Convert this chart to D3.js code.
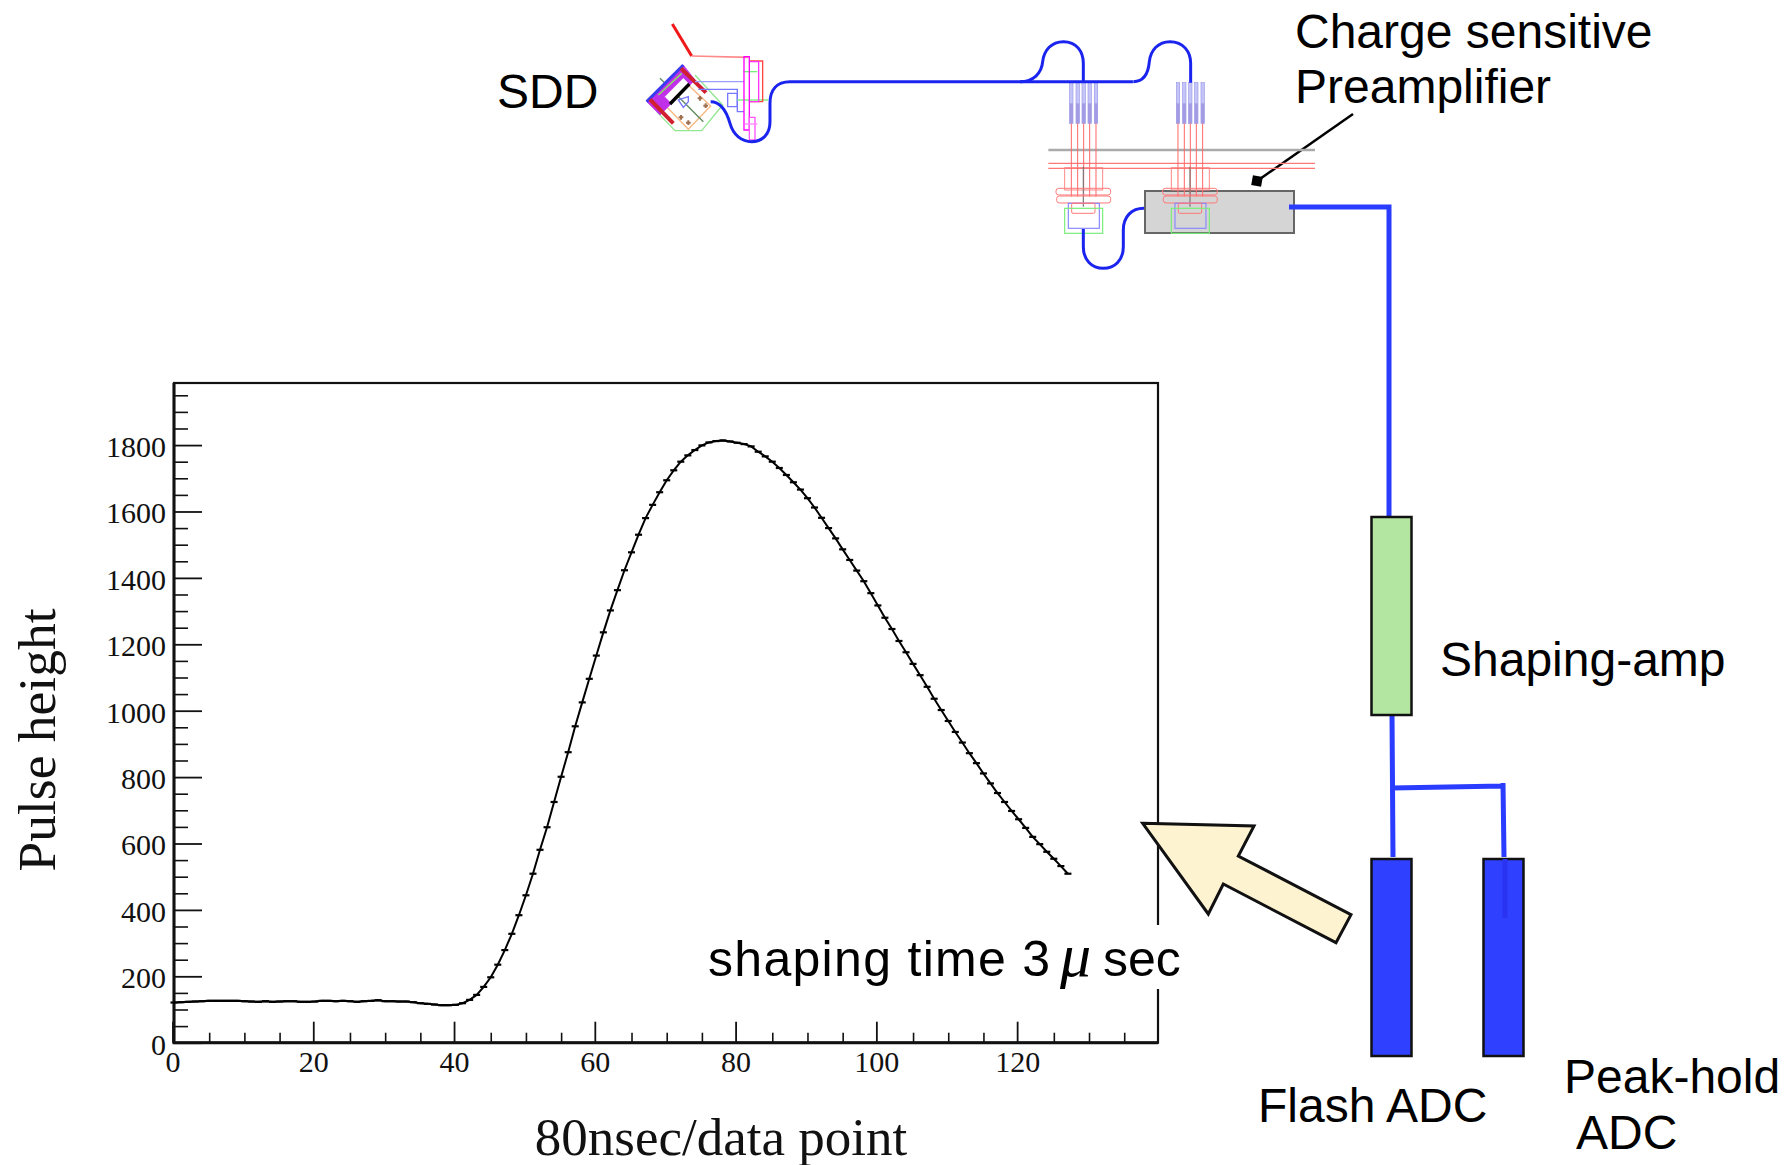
<!DOCTYPE html>
<html>
<head>
<meta charset="utf-8">
<title>Pulse height</title>
<script src="https://cdn.jsdelivr.net/npm/d3@7"></script>
<style>
  html, body { margin: 0; padding: 0; background: #fff; overflow: hidden; }
  svg { display: block; }
</style>
</head>
<body>
<script>
"use strict";

let width = 1790;
let height = 1165;

// pulse height per sample, sample number is the index
let baseline = [121, 122, 123, 124, 125, 126, 126, 126, 126, 126, 125, 124, 123, 125, 123, 124, 125, 125, 123, 123,
  124, 126, 126, 125, 126, 125, 123, 125, 126, 128, 125, 125, 124, 124, 122, 119, 117, 115, 113];
let rising = [113, 114, 119, 129, 144, 168, 197, 235, 279, 328, 384, 444, 509, 581, 649, 725, 801, 875, 953, 1025,
  1096, 1166, 1236, 1302, 1363, 1423, 1477, 1530, 1580, 1620, 1658, 1694, 1724, 1750, 1769, 1785, 1799, 1808, 1812];
let falling = [1814, 1811, 1807, 1803, 1796, 1780, 1766, 1750, 1731, 1710, 1688, 1666, 1640, 1612, 1581, 1550, 1519,
  1486, 1454, 1422, 1390, 1354, 1317, 1280, 1246, 1210, 1176, 1141, 1107, 1072, 1036, 1002, 969, 936, 904, 872, 842,
  811, 781, 752, 725, 698, 673, 647, 620, 598, 575, 554, 532, 509];
let pulse = baseline.concat(rising, falling);

let xMajor = [0, 20, 40, 60, 80, 100, 120];
let xMinor = d3.range(0, 136, 5).filter(d => d % 20 != 0);
let yMajor = [0, 200, 400, 600, 800, 1000, 1200, 1400, 1600, 1800];
let yMinor = d3.range(0, 1951, 50).filter(d => d % 200 != 0);

let serif = "'Liberation Serif', serif";
let sans = "'Liberation Sans', sans-serif";
let cableBlue = "#1a24ee";
let lineBlue = "#2a3cff";

let svg = d3.select("body").append("svg").attr("width", width).attr("height", height);

// ---- chart ----
let xEnd = 139.8;
let x = d3.scaleLinear().domain([0, xEnd]).range([174, 1158]);
let y = d3.scaleLinear().domain([0, 1987]).range([1042.7, 383]);

let chart = svg.append("g");

function styleAxis(g, w) {
  g.select(".domain").remove();
  g.selectAll("line").attr("stroke", "#111").attr("stroke-width", w);
  g.selectAll("text").attr("font-family", serif).attr("font-size", 30).attr("fill", "#111");
}

chart.append("g").attr("transform", "translate(0,1042.7)")
  .call(d3.axisBottom(x).tickValues(xMinor).tickSize(-10).tickFormat(""))
  .call(styleAxis, 1.6);
chart.append("g").attr("transform", "translate(-1.5,1042.7)")
  .call(d3.axisBottom(x).tickValues(xMajor).tickSize(-21).tickPadding(8).tickFormat(d3.format("d")))
  .call(styleAxis, 1.8);
chart.append("g").attr("transform", "translate(174,0)")
  .call(d3.axisLeft(y).tickValues(yMinor).tickSize(-14).tickFormat(""))
  .call(styleAxis, 1.6);
chart.append("g").attr("transform", "translate(174,0)")
  .call(d3.axisLeft(y).tickValues(yMajor).tickSize(-28).tickPadding(8).tickFormat(d3.format("d")))
  .call(styleAxis, 1.8)
  .selectAll("text").attr("dy", "0.38em");

chart.append("rect")
  .attr("x", x(0)).attr("y", y(1987))
  .attr("width", x(xEnd) - x(0)).attr("height", y(0) - y(1987))
  .attr("fill", "none").attr("stroke", "#111").attr("stroke-width", 2.2);
chart.append("path")
  .attr("d", "M" + x(0) + "," + y(1987) + "V" + y(0) + "H" + x(xEnd))
  .attr("fill", "none").attr("stroke", "#111").attr("stroke-width", 3);

let line = d3.line().x((d, i) => x(i)).y(d => y(d));
chart.append("path").datum(pulse)
  .attr("d", line)
  .attr("fill", "none").attr("stroke", "#000").attr("stroke-width", 2);
chart.selectAll(".err").data(pulse).enter().append("line")
  .attr("class", "err")
  .attr("x1", (d, i) => x(i - 0.5)).attr("x2", (d, i) => x(i + 0.5))
  .attr("y1", d => y(d)).attr("y2", d => y(d))
  .attr("stroke", "#000").attr("stroke-width", 2.2);

svg.append("text")
  .attr("transform", "translate(55,740) rotate(-90)")
  .attr("text-anchor", "middle")
  .attr("font-family", serif).attr("font-size", 53.5).attr("fill", "#111")
  .text("Pulse height");
svg.append("text")
  .attr("x", 721).attr("y", 1155)
  .attr("text-anchor", "middle")
  .attr("font-family", serif).attr("font-size", 53).attr("fill", "#111")
  .text("80nsec/data point");

// label sits on a white patch which cuts the right border
svg.append("rect").attr("x", 1140).attr("y", 925).attr("width", 45).attr("height", 64).attr("fill", "#fff");

function label(str, px, py, size, font, style, spacing) {
  svg.append("text")
    .attr("x", px).attr("y", py)
    .attr("font-family", font || sans).attr("font-size", size || 48)
    .attr("font-style", style || "normal")
    .attr("letter-spacing", spacing || 0)
    .attr("fill", "#000")
    .text(str);
}
label("shaping time 3", 708, 976, 50, sans, "normal", 1.3);
label("μ", 1060, 976, 62, serif, "italic");
label("sec", 1103, 976, 50);

label("SDD", 497, 108);
label("Charge sensitive", 1295, 48);
label("Preamplifier", 1295, 103);
label("Shaping-amp", 1440, 676);
label("Flash ADC", 1258, 1122);
label("Peak-hold", 1564, 1093);
label("ADC", 1576, 1149);

// ---- readout chain ----
let chain = svg.append("g");

chain.append("rect").attr("x", 1145).attr("y", 191).attr("width", 149).attr("height", 42)
  .attr("fill", "#d5d5d5").attr("stroke", "#666").attr("stroke-width", 2);

chain.append("path").attr("d", "M1289,207H1389V517")
  .attr("fill", "none").attr("stroke", lineBlue).attr("stroke-width", 5);
chain.append("path").attr("d", "M1392,714L1393,857M1392,788L1503,786M1503,783L1504,857")
  .attr("fill", "none").attr("stroke", lineBlue).attr("stroke-width", 5);

chain.append("rect").attr("x", 1371.5).attr("y", 517).attr("width", 40).attr("height", 198)
  .attr("fill", "#b3e6a0").attr("stroke", "#111").attr("stroke-width", 2.5);
[1371.5, 1483.5].forEach(function (bx) {
  chain.append("rect").attr("x", bx).attr("y", 859).attr("width", 40).attr("height", 197)
    .attr("fill", "#3040ff").attr("stroke", "#111").attr("stroke-width", 2.5);
});
chain.append("line").attr("x1", 1505).attr("x2", 1505).attr("y1", 859).attr("y2", 918)
  .attr("stroke", "#2a33f0").attr("stroke-width", 5);

// leader to the preamp box
chain.append("line").attr("x1", 1353).attr("y1", 114).attr("x2", 1257).attr("y2", 181)
  .attr("stroke", "#000").attr("stroke-width", 2.5);
chain.append("rect").attr("x", -5).attr("y", -5).attr("width", 10).attr("height", 10)
  .attr("transform", "translate(1257,181) rotate(10)").attr("fill", "#000");

// big arrow
chain.append("polygon")
  .attr("points", "1142.7,823.3 1254,826 1238.3,856 1351,914.7 1336,942.7 1223.3,884 1208.3,914")
  .attr("fill", "#fef3d0").attr("stroke", "#111").attr("stroke-width", 3).attr("stroke-linejoin", "miter");

// ---- feedthrough drawing, coordinates in 3x units ----
let feed = svg.append("g").attr("transform", "translate(1020,20) scale(0.3333)").attr("fill", "none");
feed.append("path").attr("d", "M85,390H885").attr("stroke", "#aaa").attr("stroke-width", 7);
feed.append("path").attr("d", "M85,430H885M85,445H885").attr("stroke", "#f77").attr("stroke-width", 3.5);

[0, 320].forEach(function (dx) {
  let c = feed.append("g").attr("transform", "translate(" + dx + ",0)");
  [149, 168, 186, 204, 223].forEach(function (px) {
    c.append("rect").attr("x", px).attr("y", 188).attr("width", 10).attr("height", 122)
      .attr("fill", "#c4c4f8").attr("stroke", "#9a9ae8").attr("stroke-width", 2);
    c.append("rect").attr("x", px).attr("y", 250).attr("width", 10).attr("height", 60)
      .attr("fill", "#a39ce4");
    c.append("path").attr("d", "M" + (px + 5) + ",310V530").attr("stroke", "#f66").attr("stroke-width", 3);
  });
  c.append("rect").attr("x", 134).attr("y", 443).attr("width", 114).attr("height", 67).attr("stroke", "#f88").attr("stroke-width", 3);
  c.append("path").attr("d", "M190,440V560").attr("stroke", "#777").attr("stroke-width", 3.5);
  c.append("rect").attr("x", 108).attr("y", 505).attr("width", 164).attr("height", 20).attr("rx", 8).attr("stroke", "#f77").attr("stroke-width", 3);
  c.append("rect").attr("x", 110).attr("y", 528).attr("width", 162).attr("height", 21).attr("rx", 8).attr("stroke", "#f77").attr("stroke-width", 3);
  c.append("rect").attr("x", 145).attr("y", 550).attr("width", 93).attr("height", 75).attr("stroke", "#88f").attr("stroke-width", 3.5);
  c.append("rect").attr("x", 155).attr("y", 550).attr("width", 70).attr("height", 30).attr("rx", 4).attr("stroke", "#f77").attr("stroke-width", 3);
  c.append("rect").attr("x", 134).attr("y", 565).attr("width", 114).attr("height", 75).attr("stroke", "#7e7").attr("stroke-width", 3.5);
});

feed.append("path")
  .attr("d", "M340,185C372,185 385,160 388,125C392,90 415,65 450,65C490,65 512,95 512,130V188")
  .attr("stroke", cableBlue).attr("stroke-width", 9);
feed.append("path")
  .attr("d", "M0,185C40,185 65,160 68,125C72,90 95,65 130,65C170,65 190,95 190,130V185")
  .attr("stroke", cableBlue).attr("stroke-width", 9);
feed.append("path")
  .attr("d", "M190,627V680C190,720 215,745 250,745C285,745 310,720 310,680V630C310,590 335,565 372,565")
  .attr("stroke", cableBlue).attr("stroke-width", 9);

// ---- SDD drawing, coordinates in 3x units ----
let sdd = svg.append("g").attr("transform", "translate(620,0) scale(0.3333)").attr("fill", "none");
function part(d, col, w, fill) {
  sdd.append("path").attr("d", d).attr("stroke", col).attr("stroke-width", w).attr("fill", fill || "none");
}
part("M225,225L308,315L245,392H165L110,335", "#8fe88f", 4);
part("M205,255L272,318L205,388L140,320Z", "#f7b880", 4);
part("M120,235L250,365", "#5f8a5f", 4);
part("M80,305L190,195L225,240L120,345Z", "#c030e8", 2, "#c030e8");
part("M135,290L190,235L205,250L150,305Z", "#fff", 1, "#fff");
part("M115,285L185,220", "#8ed86a", 5);
part("M80,305L190,195", "#3a3af0", 9);
part("M90,298L160,370", "#d02030", 12);
part("M183,205L258,278", "#d02030", 12);
part("M150,312L208,252", "#000", 10);
part("M175,300L205,290L205,305L190,322Z", "#77f", 4);
[[257, 317], [240, 295], [205, 368], [183, 352]].forEach(function (p) {
  part("M" + (p[0] - 7) + "," + p[1] + "H" + (p[0] + 7) + "M" + p[0] + "," + (p[1] - 7) + "V" + (p[1] + 7), "#a07050", 6);
});
part("M225,245H372", "#99a0ff", 4);
part("M235,268H352V335H372", "#77f", 4);
part("M323,280H352V320H323Z", "#77f", 4);
part("M352,300H445", "#7e7", 4);
part("M370,215H412", "#7e7", 4);
part("M157,72L215,168", "#f01818", 9);
part("M215,168L385,172", "#f88", 5);
part("M372,170H388V390H372Z", "#f0f", 4);
part("M390,183H428V305H390", "#f44", 4);
part("M390,185H416V305H390", "#f3f", 4);
part("M388,352H405V420H388Z", "#f5f", 4);
part("M375,372H412", "#f8f", 4);
part("M272,305C305,305 320,335 330,370C340,405 365,425 395,425C430,425 450,400 450,365V310C450,270 470,245 510,245H1539", cableBlue, 9);
</script>
</body>
</html>
